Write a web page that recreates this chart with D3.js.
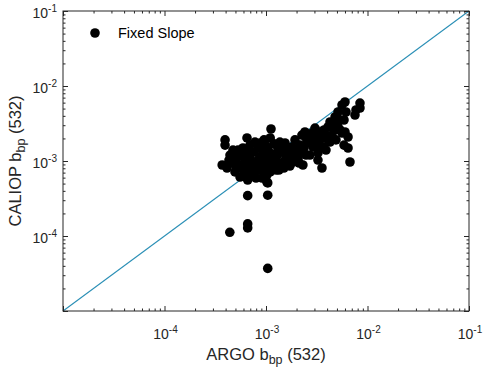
<!DOCTYPE html>
<html>
<head>
<meta charset="utf-8">
<script src="https://cdn.jsdelivr.net/npm/d3@7"></script>
<style>
  body { margin: 0; background: #fff; }
  svg { display: block; font-family: "Liberation Sans", Arial, sans-serif; }
</style>
</head>
<body>
<svg id="chart"></svg>
<script>
// ARGO bbp(532) values (x)
const argo = [
  3.95e-4, 3.95e-4, 4.73e-4, 4.32e-4, 3.70e-4, 4.13e-4, 4.95e-4, 5.55e-4, 6.50e-4, 6.50e-4, 7.79e-4, 1.12e-3,
  5.30e-4, 5.80e-4, 6.21e-4, 5.55e-4, 6.65e-4, 7.28e-4, 7.97e-4, 6.96e-4, 7.62e-4, 8.34e-4, 9.13e-4, 8.73e-4,
  9.56e-4, 8.73e-4, 1.02e-3, 1.02e-3, 1.05e-3, 1.10e-3, 1.15e-3, 1.00e-3, 1.20e-3, 1.31e-3, 1.26e-3, 1.37e-3,
  1.26e-3, 1.44e-3, 1.54e-3, 1.57e-3, 1.72e-3, 1.72e-3, 1.80e-3, 1.85e-3, 1.44e-3, 1.15e-3, 9.13e-4, 7.97e-4,
  6.07e-4, 5.06e-4, 4.52e-4, 5.93e-4, 6.96e-4, 8.34e-4, 9.56e-4, 1.10e-3, 1.05e-3, 1.37e-3,
  5.18e-4, 6.35e-4, 7.28e-4, 8.34e-4, 9.56e-4, 1.10e-3, 1.20e-3, 1.31e-3, 1.50e-3, 1.65e-3, 8.73e-4, 6.65e-4,
  5.80e-4, 7.62e-4, 1.00e-3, 1.50e-3, 1.34e-3, 4.42e-4, 9.13e-4,
  2.07e-3, 2.16e-3, 2.26e-3, 2.42e-3, 2.53e-3, 2.84e-3, 2.90e-3, 3.18e-3, 3.25e-3, 3.40e-3, 3.56e-3, 3.64e-3,
  3.56e-3, 4.08e-3, 4.27e-3, 4.79e-3, 5.12e-3, 5.12e-3, 5.61e-3, 5.61e-3, 6.00e-3, 6.43e-3, 6.43e-3, 6.72e-3,
  7.53e-3, 8.43e-3, 8.43e-3,
  1.98e-3, 2.37e-3, 2.65e-3, 3.90e-3, 4.27e-3, 4.68e-3, 2.71e-3, 3.90e-3, 4.89e-3, 5.36e-3, 5.87e-3, 3.04e-3,
  1.93e-3, 2.16e-3, 2.48e-3, 2.97e-3, 3.40e-3, 4.47e-3, 5.36e-3, 4.89e-3, 6.14e-3, 5.87e-3, 3.25e-3, 2.48e-3,
  2.12e-3, 2.31e-3, 1.93e-3, 4.08e-3, 3.73e-3, 6.00e-3, 7.70e-3,
  6.60e-4, 6.60e-4, 1.04e-3, 1.04e-3, 6.60e-4, 6.60e-4, 4.40e-4, 1.04e-3
];

// CALIOP bbp(532) values, same order (y)
const caliop = [
  1.91e-3, 1.63e-3, 1.40e-3, 1.03e-3, 8.84e-4, 8.07e-4, 7.14e-4, 6.12e-4, 6.12e-4, 2.03e-3, 1.79e-3, 2.67e-3,
  1.40e-3, 1.17e-3, 9.70e-4, 8.84e-4, 8.07e-4, 7.14e-4, 8.58e-4, 1.10e-3, 1.32e-3, 1.59e-3, 1.40e-3, 1.13e-3,
  9.70e-4, 7.59e-4, 6.51e-4, 5.25e-4, 8.07e-4, 1.03e-3, 1.24e-3, 1.59e-3, 1.69e-3, 1.49e-3, 1.10e-3, 9.12e-4,
  7.59e-4, 1.32e-3, 1.74e-3, 1.10e-3, 8.58e-4, 1.20e-3, 1.54e-3, 9.70e-4, 1.49e-3, 8.58e-4, 5.93e-4, 5.93e-4,
  7.14e-4, 8.58e-4, 9.40e-4, 1.49e-3, 1.63e-3, 1.03e-3, 1.91e-3, 2.03e-3, 1.40e-3, 1.79e-3,
  1.10e-3, 1.32e-3, 9.70e-4, 7.59e-4, 8.07e-4, 7.14e-4, 1.03e-3, 1.24e-3, 9.70e-4, 1.40e-3, 1.74e-3, 1.03e-3,
  8.07e-4, 6.31e-4, 1.17e-3, 8.07e-4, 7.59e-4, 1.20e-3, 9.12e-4,
  1.10e-3, 1.28e-3, 2.22e-3, 2.44e-3, 1.74e-3, 2.36e-3, 1.54e-3, 2.09e-3, 1.28e-3, 2.44e-3, 2.03e-3, 1.54e-3,
  8.07e-4, 2.84e-3, 3.31e-3, 3.86e-3, 4.50e-3, 2.84e-3, 2.36e-3, 5.58e-3, 6.12e-3, 2.09e-3, 1.49e-3, 9.70e-4,
  4.10e-3, 5.93e-3, 5.09e-3,
  1.40e-3, 1.49e-3, 1.91e-3, 2.22e-3, 1.79e-3, 2.59e-3, 1.20e-3, 1.40e-3, 1.91e-3, 3.52e-3, 1.63e-3, 2.75e-3,
  1.91e-3, 1.63e-3, 2.03e-3, 1.79e-3, 1.63e-3, 2.22e-3, 2.59e-3, 3.11e-3, 4.50e-3, 3.52e-3, 1.03e-3, 1.20e-3,
  9.40e-4, 8.84e-4, 1.10e-3, 1.91e-3, 2.59e-3, 2.44e-3, 4.79e-3,
  5.58e-4, 3.45e-4, 3.50e-4, 5.10e-4, 1.45e-4, 1.28e-4, 1.12e-4, 3.70e-5
];

const majorTicks = [1e-5, 1e-4, 1e-3, 1e-2, 1e-1];
const tickExp = ["-5", "-4", "-3", "-2", "-1"];
const legendLabel = "Fixed Slope";

const width = 484, height = 372;
const margin = {top: 11, right: 15, bottom: 61, left: 63};
const axisColor = "#262626";

const svg = d3.select("#chart").attr("width", width).attr("height", height);

const x = d3.scaleLog().domain([1e-5, 1e-1]).range([margin.left, width - margin.right]);
const y = d3.scaleLog().domain([1e-5, 1e-1]).range([height - margin.bottom, margin.top]);

// minor ticks 2..9 in each decade
let minorTicks = [];
for (let i = 0; i < majorTicks.length - 1; i++) {
  for (let m = 2; m <= 9; m++) minorTicks.push(majorTicks[i] * m);
}

// 1:1 line
svg.append("line")
  .attr("x1", x(1e-5)).attr("y1", y(1e-5))
  .attr("x2", x(1e-1)).attr("y2", y(1e-1))
  .attr("stroke", "#2a8fb6")
  .attr("stroke-width", 1.1);

// points
svg.append("g")
  .selectAll("circle")
  .data(argo.map((d, i) => ({argo: d, caliop: caliop[i]})))
  .join("circle")
  .attr("cx", d => x(d.argo))
  .attr("cy", d => y(d.caliop))
  .attr("r", 4.8)
  .attr("fill", "#000");

// axes (ticks pointing inward, all four sides)
function drawAxis(axisFn, scale, transform) {
  const gMinor = svg.append("g").attr("transform", transform)
    .call(axisFn(scale).tickValues(minorTicks).tickSize(-2.5).tickSizeOuter(0).tickFormat(""));
  const gMajor = svg.append("g").attr("transform", transform)
    .call(axisFn(scale).tickValues(majorTicks).tickSize(-5).tickSizeOuter(0).tickFormat(""));
  [gMinor, gMajor].forEach(g => {
    g.select(".domain").remove();
    g.selectAll("line").attr("stroke", axisColor);
  });
}
drawAxis(d3.axisBottom, x, `translate(0,${height - margin.bottom})`);
drawAxis(d3.axisTop, x, `translate(0,${margin.top})`);
drawAxis(d3.axisLeft, y, `translate(${margin.left},0)`);
drawAxis(d3.axisRight, y, `translate(${width - margin.right},0)`);

// box
svg.append("rect")
  .attr("x", margin.left).attr("y", margin.top)
  .attr("width", width - margin.left - margin.right)
  .attr("height", height - margin.top - margin.bottom)
  .attr("fill", "none")
  .attr("stroke", axisColor)
  .attr("stroke-width", 1);

// tick labels with superscripts
const labelColor = "#262626";
majorTicks.forEach((t, i) => {
  if (i === 0) return;
  const tx = svg.append("text")
    .attr("x", x(t) + 1).attr("y", height - margin.bottom + 28)
    .attr("text-anchor", "middle")
    .attr("font-size", 14).attr("fill", labelColor);
  tx.append("tspan").text("10");
  tx.append("tspan").attr("font-size", 10).attr("dy", -6).text(tickExp[i]);

  const ty = svg.append("text")
    .attr("x", margin.left - 6).attr("y", y(t) + 7)
    .attr("text-anchor", "end")
    .attr("font-size", 14).attr("fill", labelColor);
  ty.append("tspan").text("10");
  ty.append("tspan").attr("font-size", 10).attr("dy", -6).text(tickExp[i]);
});

// axis titles
const xt = svg.append("text")
  .attr("x", (margin.left + width - margin.right) / 2)
  .attr("y", height - 12)
  .attr("text-anchor", "middle")
  .attr("font-size", 16.5).attr("fill", labelColor);
xt.append("tspan").text("ARGO b");
xt.append("tspan").attr("font-size", 12.5).attr("dy", 4).text("bp");
xt.append("tspan").attr("dy", -4).text(" (532)");

const yt = svg.append("text")
  .attr("transform", `translate(21,${(margin.top + height - margin.bottom) / 2}) rotate(-90)`)
  .attr("text-anchor", "middle")
  .attr("font-size", 16.5).attr("fill", labelColor);
yt.append("tspan").text("CALIOP b");
yt.append("tspan").attr("font-size", 12.5).attr("dy", 4).text("bp");
yt.append("tspan").attr("dy", -4).text(" (532)");

// legend
const legend = svg.append("g");
legend.append("circle").attr("cx", 95).attr("cy", 33).attr("r", 4.8).attr("fill", "#000");
legend.append("text")
  .attr("x", 118).attr("y", 38)
  .attr("font-size", 14.5).attr("fill", "#000")
  .text(legendLabel);
</script>
</body>
</html>
